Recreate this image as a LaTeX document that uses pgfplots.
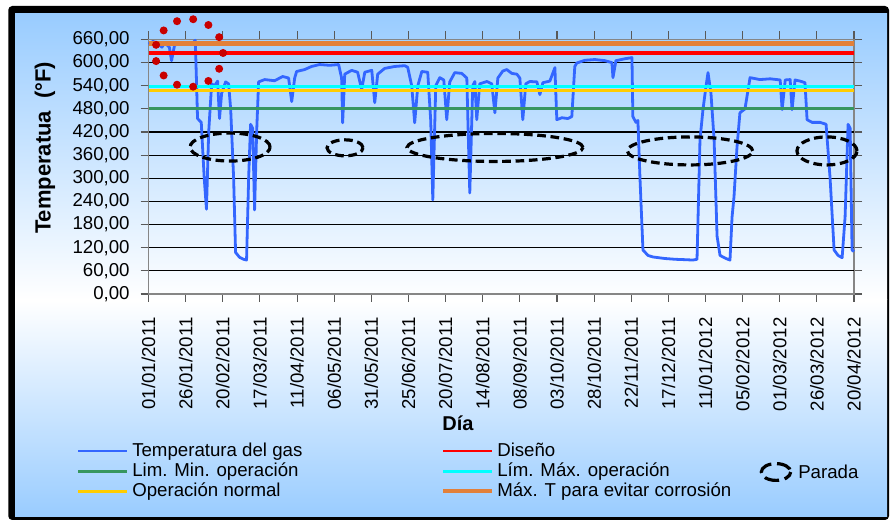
\documentclass[border=0pt]{standalone}
\usepackage{pgfplots}
\pgfplotsset{compat=1.18}
\usepackage{fontspec}
\setmainfont{Liberation Sans}
\definecolor{bgblue}{RGB}{153,204,255}
\definecolor{gasblue}{RGB}{51,102,255}
\definecolor{limgreen}{RGB}{55,150,95}
\definecolor{limcyan}{RGB}{0,255,255}
\definecolor{opyellow}{RGB}{255,204,0}
\definecolor{corrorange}{RGB}{226,128,58}
\definecolor{axgray}{RGB}{134,134,134}
\definecolor{dotred}{RGB}{200,0,0}
\newcommand{\tfont}{\fontsize{14}{16}\selectfont}
\begin{document}
\begin{tikzpicture}
\useasboundingbox (0pt,0pt) rectangle (669pt,390pt);
\fill[white] (0pt,0pt) rectangle (669pt,390pt);
% chart area frame and background
\fill[black, rounded corners=3pt] (6.2pt,0pt) rectangle (666.75pt,385.5pt);
\shade[top color=bgblue, bottom color=white] (11.25pt,165pt) rectangle (665.25pt,380pt);
\shade[top color=white, bottom color=bgblue] (11.25pt,2.25pt) rectangle (665.25pt,165pt);
\begin{axis}[
  at={(111.4pt,169.5pt)}, anchor=south west,
  scale only axis, width=529.1pt, height=190.9pt,
  xmin=0, xmax=475, ymin=0, ymax=660,
  clip=false,
  axis line style={axgray, line width=0.8pt},
  tick align=outside, major tick length=6pt,
  tick style={gray!70!black, line width=0.8pt},
  xtick={0,25,...,475},
  xticklabels={01/01/2011,26/01/2011,20/02/2011,17/03/2011,11/04/2011,06/05/2011,31/05/2011,25/06/2011,20/07/2011,14/08/2011,08/09/2011,03/10/2011,28/10/2011,22/11/2011,17/12/2011,11/01/2012,05/02/2012,01/03/2012,26/03/2012,20/04/2012},
  xticklabel style={rotate=90, anchor=east, inner sep=0pt, font=\tfont},
  xticklabel shift=11.5pt,
  ytick={0,60,...,660},
  yticklabel style={inner sep=0pt, font=\tfont},
  yticklabel shift=8pt,
  /pgf/number format/.cd, fixed, fixed zerofill, precision=2, use comma, assume math mode=true, /pgfplots/.cd,
  extra y ticks={60,120,...,600},
  extra y tick labels={},
  extra y tick style={grid=major, major tick length=0pt},
  grid style={black, line width=0.8pt},
  xlabel={Día},
  xlabel style={at={(axis description cs:0.4387,-0.507)}, anchor=center, font=\fontsize{15}{17}\selectfont\bfseries},
  ylabel={Temperatua\ \ (°F)},
  ylabel style={at={(axis description cs:-0.1467,0.574)}, anchor=center, rotate=0, font=\fontsize{16.5}{18}\selectfont\bfseries},
]
\addplot[gasblue, line width=2.1pt, line join=round] coordinates {
(0,648) (3,655) (6,650) (9,640) (11,652) (14,640) (15.5,605) (17.5,645) (21,650) (25,652) (29,648) (31.5,658)
(33,455) (35.5,445) (37.5,300) (39,220) (40.5,420) (42.5,545) (44.5,540) (46.5,552) (47.8,455) (49.2,520)
(51.9,550) (53.9,545) (55.3,480) (57.3,300) (58.6,108) (61.3,95) (64,90) (66,88) (67.4,300) (68.7,440)
(70.1,430) (71.4,218) (72.8,420) (74.1,550) (78.2,556) (84.9,553) (90.3,564) (94.3,560) (96.4,499) (98.4,560)
(99.7,577) (105.1,582) (109.8,590) (115.2,595) (122,593) (128,595) (130,560) (130.7,444) (132.1,570) (136.8,580)
(140.8,575) (143.5,530) (145.6,575) (150.3,580) (152.3,496) (154.3,570) (159,585) (165.8,590) (172.5,592)
(174.5,588) (177.2,540) (179.2,444) (181.3,540) (184,577) (188,575) (190,450) (191.4,244) (193.4,540)
(196.1,561) (198.8,555) (200.8,452) (202.8,550) (206.2,574) (210.9,572) (214.3,560) (216.3,262) (218.3,540)
(219.7,551) (221,452) (223,545) (227.8,551) (231.1,545) (233.2,470) (235.2,560) (238.5,578) (241.2,582)
(244.6,572) (248,570) (250,560) (252,452) (254,545) (256.7,551) (261.5,550) (263.5,517) (265.5,548) (270.2,552)
(273.6,587) (274.9,452) (278.3,457) (282.3,455) (285,460) (287,590) (288.4,599) (293.8,606) (300.5,608)
(307.3,605) (312,600) (312.7,561) (314.7,605) (320.8,610) (325.5,613) (326.1,460) (328.2,445) (329.5,450)
(330.9,300) (332.9,114) (336.3,100) (339.6,96) (347.7,92) (354.5,90) (361.2,89) (366.6,88) (369.3,90)
(371.3,400) (373.3,478) (375.4,540) (376.7,574) (378.7,520) (380.8,400) (382.8,150) (384.8,100) (388.8,92)
(391.5,88) (392.9,200) (394.2,252) (396.2,380) (398.2,470) (401.6,480) (405,561) (411.7,556) (418.5,558)
(425.3,555) (426.6,478) (428.7,555) (432,556) (433.3,478) (435.3,555) (438.7,552) (442,548) (443.4,452)
(446.8,445) (452.2,445) (456.2,440) (458.9,300) (461.6,114) (464.3,100) (467,94) (469,200) (471,440)
(472.4,430) (473.7,114) (475,110)
};
\addplot[red, line width=2.6pt] coordinates {(0,625) (475,625)};
\addplot[limgreen, line width=2.25pt] coordinates {(0,480) (475,480)};
\addplot[limcyan, line width=2.6pt] coordinates {(0,538) (475,538)};
\addplot[opyellow, line width=2.25pt] coordinates {(0,528) (475,528)};
\addplot[corrorange, line width=3.75pt] coordinates {(0,649) (475,649)};
% shutdown annotations
\begin{scope}[black, line width=2.4pt, dash pattern=on 6.5pt off 3.5pt]
\draw (axis cs:54.9,381) ellipse [x radius=30pt, y radius=10.5pt];
\draw (axis cs:132.3,379) ellipse [x radius=13.5pt, y radius=6pt];
\draw (axis cs:233.3,380) ellipse [x radius=66pt, y radius=10.5pt];
\draw (axis cs:364.6,371) ellipse [x radius=47pt, y radius=10.5pt];
\draw (axis cs:456.8,371) ellipse [x radius=22.5pt, y radius=10.5pt];
\end{scope}
\draw[dotred, line width=6pt, line cap=round, dash pattern=on 0pt off 12.32pt] (axis cs:27.3,625) circle [radius=25.5pt];
\end{axis}
% legend
\begin{scope}[font=\tfont]
\draw[gasblue, line width=2.2pt] (58.5pt,51.75pt) -- (95.25pt,51.75pt);
\node[anchor=base west, inner sep=0pt] at (99pt,47.6pt) {Temperatura del gas};
\draw[limgreen, line width=2.2pt] (58.5pt,36.4pt) -- (95.25pt,36.4pt);
\node[anchor=base west, inner sep=0pt] at (99pt,32.3pt) {Lim. Min. operación};
\draw[opyellow, line width=2.2pt] (58.5pt,21.4pt) -- (95.25pt,21.4pt);
\node[anchor=base west, inner sep=0pt] at (99pt,17.3pt) {Operación normal};
\draw[red, line width=2.2pt] (332.25pt,51.75pt) -- (369pt,51.75pt);
\node[anchor=base west, inner sep=0pt] at (372.75pt,47.6pt) {Diseño};
\draw[limcyan, line width=2.2pt] (332.25pt,36.4pt) -- (369pt,36.4pt);
\node[anchor=base west, inner sep=0pt] at (372.75pt,32.3pt) {Lím. Máx. operación};
\draw[corrorange, line width=3pt] (332.25pt,21.4pt) -- (369pt,21.4pt);
\node[anchor=base west, inner sep=0pt] at (372.75pt,17.3pt) {Máx. T para evitar corrosión};
\draw[black, line width=2.4pt, dash pattern=on 11pt off 4.3pt, dash phase=-2pt] (582pt,36pt) ellipse [x radius=11pt, y radius=6.3pt];
\node[anchor=base west, inner sep=0pt] at (598.5pt,31.2pt) {Parada};
\end{scope}
\end{tikzpicture}
\end{document}
